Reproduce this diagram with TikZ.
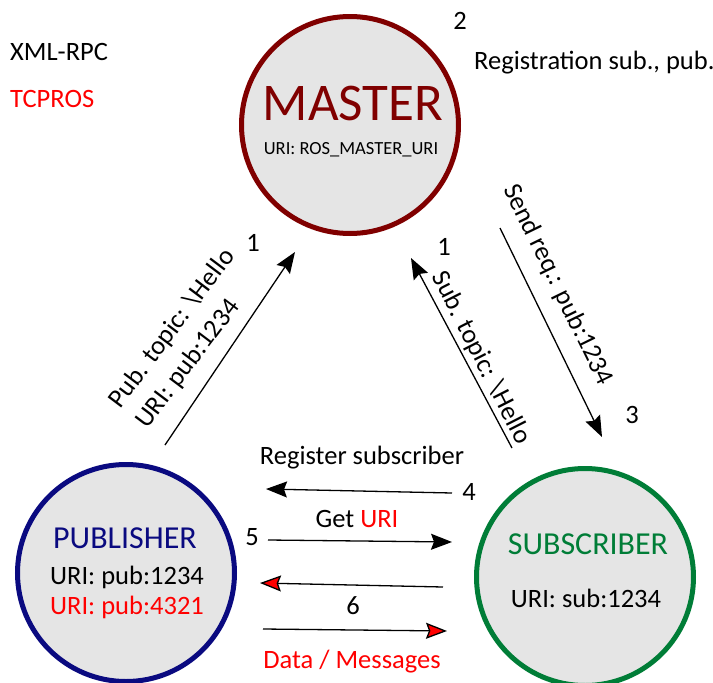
\documentclass[tikz,border=0pt]{standalone}
\usepackage{fontspec}
\setmainfont{Carlito}
\usetikzlibrary{arrows.meta}

\definecolor{masterred}{RGB}{128,0,0}
\definecolor{pubblue}{RGB}{10,10,128}
\definecolor{subgreen}{RGB}{0,125,55}

\begin{document}
\begin{tikzpicture}[x=1pt,y=-1pt,
		peer/.style={circle, line width=5pt, fill=gray!20, minimum size=217pt, inner sep=0pt},
		txt/.style={font=\fontsize{26.5}{34}\selectfont, inner sep=0pt},
		small/.style={font=\fontsize{18.5}{22}\selectfont, inner sep=0pt},
		msg/.style={-{Stealth[length=21pt,width=16pt,inset=3pt]}, line width=1.3pt},
		data/.style={-{Stealth[length=21pt,width=16pt,inset=3pt,fill=red]}, line width=1.3pt}]

		\useasboundingbox (0,0) rectangle (713,683);

		% nodes
		\node[peer, draw=masterred] (master) at (350,125) {};
		\node[peer, draw=pubblue] (pub) at (126,573) {};
		\node[peer, draw=subgreen] (sub) at (585,577) {};

		\node[txt, font=\fontsize{53}{60}\selectfont, text=masterred] (masterName) at (353,103) {MASTER};
		\node[small] (masterUri) at (351,150) {URI: ROS\_MASTER\_URI};
		\node[txt, font=\fontsize{32}{36}\selectfont, text=pubblue] (pubName) at (125,538) {PUBLISHER};
		\node[txt] (pubUri) at (127,577) {URI: pub:1234};
		\node[txt, text=red] (pubUri2) at (127,607) {URI: pub:4321};
		\node[txt, font=\fontsize{32}{36}\selectfont, text=subgreen] (subName) at (588,544) {SUBSCRIBER};
		\node[txt] (subUri) at (586,598) {URI: sub:1234};

		% legend
		\node[txt, anchor=west] (xmlrpc) at (10,52) {XML-RPC};
		\node[txt, anchor=west, text=red] (tcpros) at (10,99) {TCPROS};
		\node[txt] (n2) at (460,21) {2};
		\node[txt, anchor=west] (regText) at (474,63) {Registration sub., pub.};

		% end points
		\coordinate (pubA) at (165,445);   \coordinate (pubB) at (295,252);
		\coordinate (subA) at (512,448);   \coordinate (subB) at (411,258);
		\coordinate (reqA) at (500,228);   \coordinate (reqB) at (602,437);
		\coordinate (regA) at (452,493);   \coordinate (regB) at (266,489);
		\coordinate (getA) at (268,540);   \coordinate (getB) at (452,542);
		\coordinate (datA) at (443,587);   \coordinate (datB) at (260,583);
		\coordinate (datC) at (263,629);   \coordinate (datD) at (447,631);

		\draw[msg] (pubA) -- (pubB);
		\draw[msg] (subA) -- (subB);
		\draw[msg] (reqA) -- (reqB);
		\draw[msg] (regA) -- (regB);
		\draw[msg] (getA) -- (getB);
		\draw[data] (datA) -- (datB);
		\draw[data] (datC) -- (datD);

		% labels
		\node[txt, rotate=53, align=left] (pubTopic) at (186,339) {Pub. topic: \textbackslash Hello\\URI: pub:1234};
		\node[txt] (n1a) at (253,243) {1};
		\node[txt, rotate=-63] (subTopic) at (481,358) {Sub. topic: \textbackslash Hello};
		\node[txt] (n1b) at (444,247) {1};
		\node[txt, rotate=-64] (reqLbl) at (558,285) {Send req.: pub:1234};
		\node[txt] (n3) at (632,415) {3};
		\node[txt] (regLbl) at (362,458) {Register subscriber};
		\node[txt] (n4) at (469,492) {4};
		\node[txt] (getLbl) at (357,519) {Get \textcolor{red}{URI}};
		\node[txt] (n5) at (252,537) {5};
		\node[txt] (n6) at (353,606) {6};
		\node[txt, text=red] (dataLbl) at (352,662) {Data / Messages};
	\end{tikzpicture}
\end{document}
